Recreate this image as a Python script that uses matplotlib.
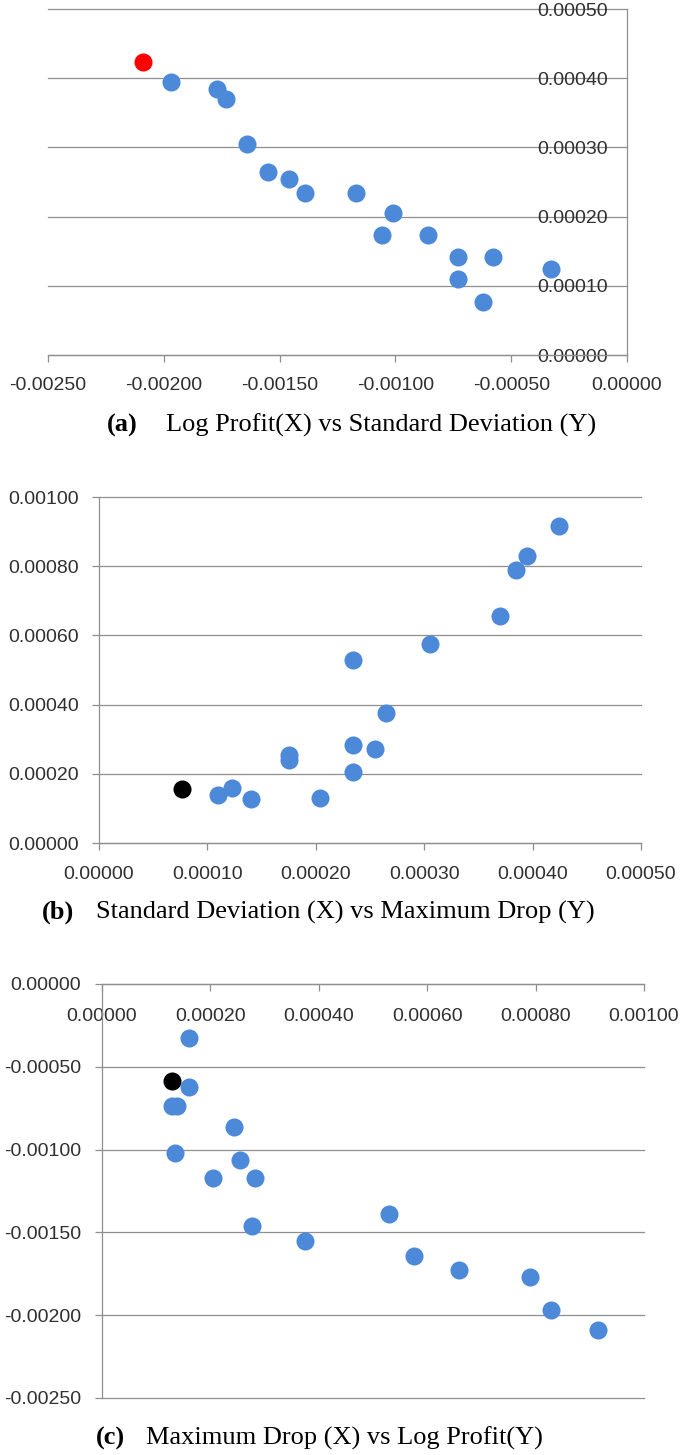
import matplotlib
matplotlib.use("Agg")
import matplotlib.pyplot as plt
from matplotlib.ticker import FuncFormatter, MultipleLocator

plt.rcParams['font.family'] = ['Liberation Sans', 'DejaVu Sans']

# ----- (a) Log Profit vs Standard Deviation -----
a_log_profit = [-0.00197, -0.00177, -0.00173, -0.00164, -0.00155, -0.00146, -0.00139, -0.00117,
                -0.00101, -0.00106, -0.00086, -0.00073, -0.00058, -0.00073, -0.00062, -0.00033]
a_std_dev = [0.000395, 0.000385, 0.000370, 0.000305, 0.000265, 0.000254, 0.000234, 0.000234,
             0.000205, 0.000174, 0.000174, 0.000141, 0.000141, 0.000110, 0.000077, 0.000124]
a_hl_log_profit = [-0.00209]
a_hl_std_dev = [0.000424]

# ----- (b) Standard Deviation vs Maximum Drop -----
b_std_dev = [0.000110, 0.000123, 0.000140, 0.000175, 0.000175, 0.000204, 0.000234, 0.000234,
             0.000234, 0.000255, 0.000265, 0.000305, 0.000370, 0.000385, 0.000395, 0.000424]
b_max_drop = [0.000138, 0.000159, 0.000128, 0.000255, 0.000240, 0.000130, 0.000529, 0.000283,
              0.000204, 0.000273, 0.000375, 0.000575, 0.000657, 0.000788, 0.000829, 0.000916]
b_hl_std_dev = [0.0000767]
b_hl_max_drop = [0.000157]

# ----- (c) Maximum Drop vs Log Profit -----
c_max_drop = [0.000160, 0.000160, 0.000129, 0.000138, 0.000243, 0.000134, 0.000254, 0.000205,
              0.000283, 0.000276, 0.000375, 0.000530, 0.000575, 0.000659, 0.000790, 0.000829, 0.000916]
c_log_profit = [-0.000326, -0.000620, -0.000735, -0.000735, -0.000862, -0.00102, -0.00106, -0.00117,
                -0.00117, -0.00146, -0.00155, -0.00139, -0.00164, -0.00173, -0.00177, -0.00197, -0.00209]
c_hl_max_drop = [0.000130]
c_hl_log_profit = [-0.000584]

captions = [("(a)", "Log Profit(X) vs Standard Deviation (Y)"),
            ("(b)", "Standard Deviation (X) vs Maximum Drop (Y)"),
            ("(c)", "Maximum Drop (X) vs Log Profit(Y)")]

BLUE = '#4c89d8'
GRID = '#8f8f8f'
TXT = '#303030'
W, H = 685, 1455


def fmt(v, pos):
    if abs(v) < 1e-12:
        v = 0.0
    return f"{v:.5f}"


def axes_px(left, top, right, bottom):
    return [left / W, 1 - bottom / H, (right - left) / W, (bottom - top) / H]


def style(ax):
    ax.xaxis.set_major_formatter(FuncFormatter(fmt))
    ax.yaxis.set_major_formatter(FuncFormatter(fmt))
    ax.grid(axis='y', color=GRID, linewidth=0.9)
    ax.set_axisbelow(True)
    for s in ax.spines.values():
        s.set_color(GRID)
        s.set_linewidth(0.9)
    ax.tick_params(colors=GRID, labelcolor=TXT, labelsize=14, width=0.9)


fig = plt.figure(figsize=(6.85, 14.55), dpi=100)

# (a)
ax1 = fig.add_axes(axes_px(48, 9, 627, 355))
ax1.plot(a_log_profit, a_std_dev, 'o', color=BLUE, markersize=13, markeredgewidth=0, zorder=3)
ax1.plot(a_hl_log_profit, a_hl_std_dev, 'o', color='#ff0000', markersize=13, markeredgewidth=0, zorder=4)
ax1.set_xlim(-0.0025, 0)
ax1.set_ylim(0, 0.0005)
ax1.xaxis.set_major_locator(MultipleLocator(0.0005))
ax1.yaxis.set_major_locator(MultipleLocator(0.0001))
style(ax1)
ax1.spines['left'].set_position(('data', 0))
ax1.spines['top'].set_visible(False)
ax1.spines['right'].set_visible(False)
ax1.tick_params(axis='x', direction='out', length=5, pad=10.5)
ax1.tick_params(axis='y', length=0, pad=13.7)

# (b)
ax2 = fig.add_axes(axes_px(99, 497, 641, 843))
ax2.plot(b_std_dev, b_max_drop, 'o', color=BLUE, markersize=13, markeredgewidth=0, zorder=3)
ax2.plot(b_hl_std_dev, b_hl_max_drop, 'o', color='black', markersize=13, markeredgewidth=0, zorder=4)
ax2.set_xlim(0, 0.0005)
ax2.set_ylim(0, 0.001)
ax2.xaxis.set_major_locator(MultipleLocator(0.0001))
ax2.yaxis.set_major_locator(MultipleLocator(0.0002))
style(ax2)
ax2.spines['top'].set_visible(False)
ax2.spines['right'].set_visible(False)
ax2.tick_params(axis='x', direction='out', length=5, pad=11.5)
ax2.tick_params(axis='y', direction='out', length=5, pad=9.4)

# (c)
ax3 = fig.add_axes(axes_px(102, 984, 644, 1398))
ax3.plot(c_max_drop, c_log_profit, 'o', color=BLUE, markersize=13, markeredgewidth=0, zorder=3)
ax3.plot(c_hl_max_drop, c_hl_log_profit, 'o', color='black', markersize=13, markeredgewidth=0, zorder=4)
ax3.set_xlim(0, 0.001)
ax3.set_ylim(-0.0025, 0)
ax3.xaxis.set_major_locator(MultipleLocator(0.0002))
ax3.yaxis.set_major_locator(MultipleLocator(0.0005))
style(ax3)
ax3.spines['bottom'].set_position(('data', 0))
ax3.spines['top'].set_visible(False)
ax3.spines['right'].set_visible(False)
ax3.tick_params(axis='x', direction='out', length=5, pad=12.5)
ax3.tick_params(axis='y', direction='out', length=5, pad=10)

# gridlines sitting on the plot edge should not be cut in half
for ax in (ax1, ax2, ax3):
    for gl in ax.get_ygridlines():
        gl.set_clip_on(False)

# captions
cap_pos = [(107, 166, 425), (42, 96, 912), (96, 146, 1438)]
for (tag, text), (x_tag, x_txt, y) in zip(captions, cap_pos):
    fig.text(x_tag / W, 1 - y / H, tag, fontsize=19, fontweight='bold',
             family='Liberation Serif', va='center', ha='left')
    fig.text(x_txt / W, 1 - y / H, text, fontsize=19,
             family='Liberation Serif', va='center', ha='left')

fig.savefig('out.png', dpi=100)
